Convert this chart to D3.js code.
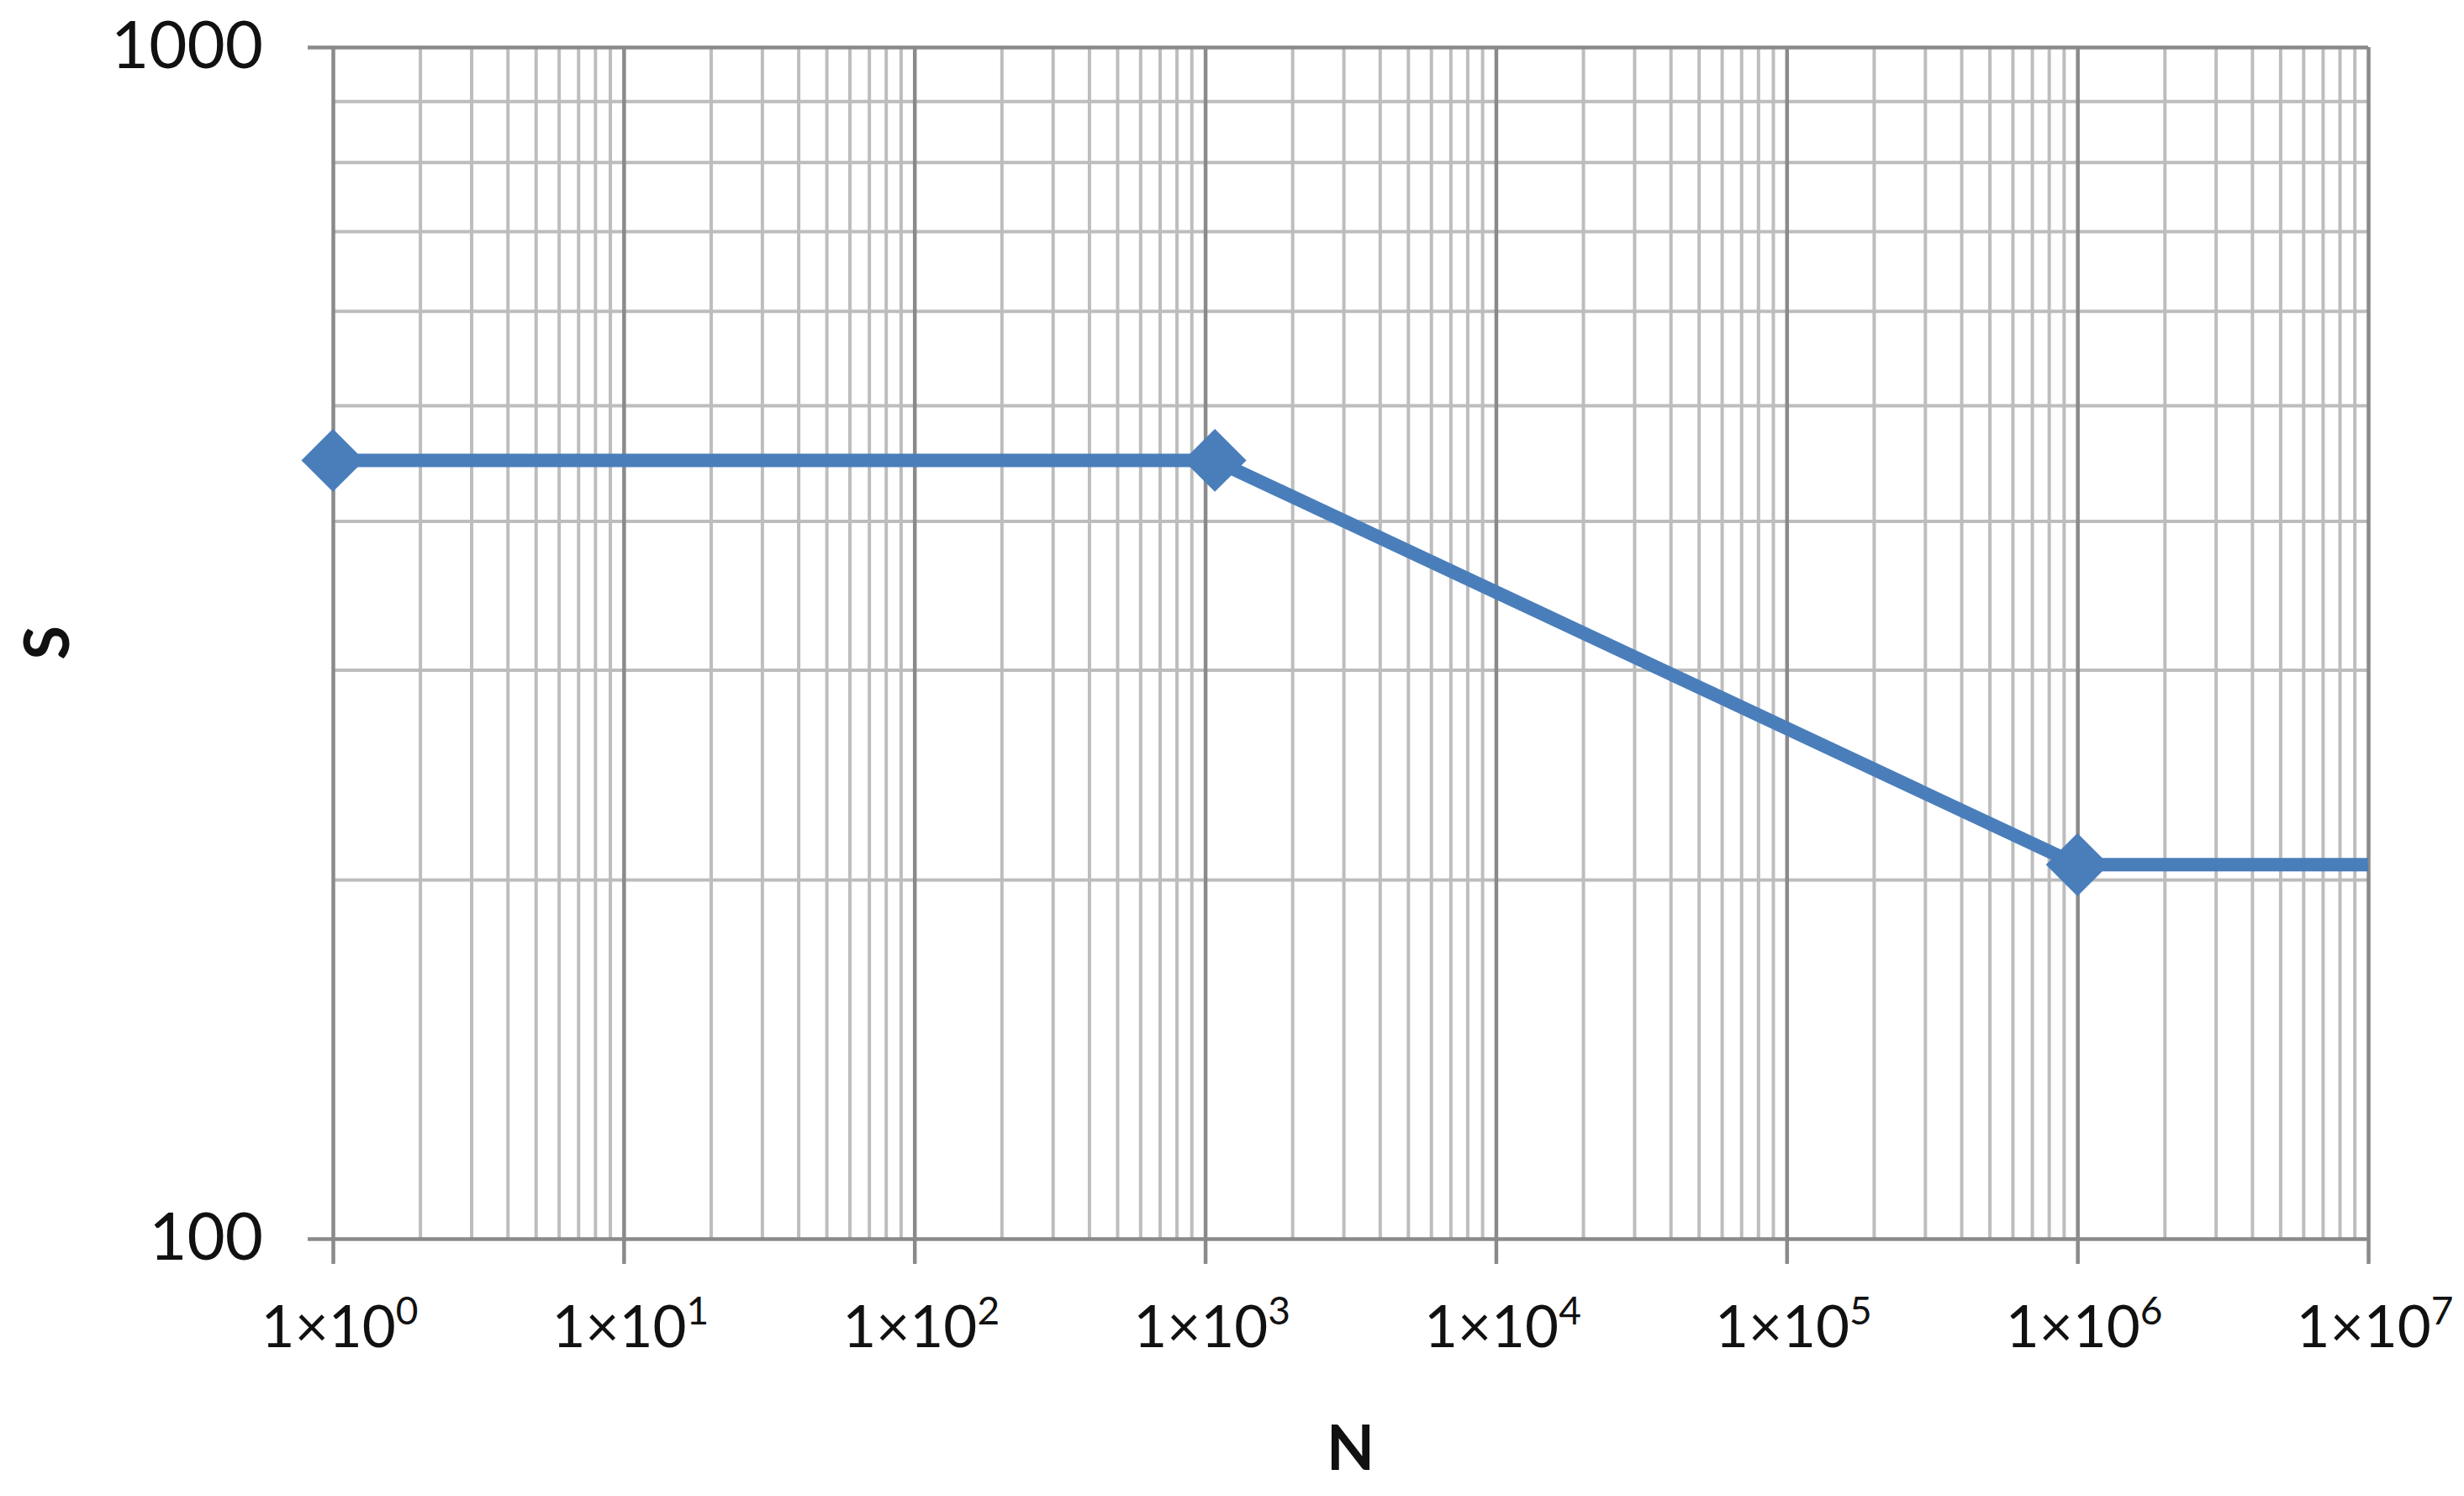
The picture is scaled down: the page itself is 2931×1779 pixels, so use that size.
<!DOCTYPE html>
<html>
<head>
<meta charset="utf-8">
<script src="https://cdn.jsdelivr.net/npm/d3@7"></script>
<style>
  html, body { margin: 0; padding: 0; background: #fff; }
  svg { display: block; }
</style>
</head>
<body>
<div id="chart"></div>
<script>
  // Series
  var seriesN = [1, 1080, 1e6, 1e7];
  var seriesS = [450, 450, 206, 206];
  var hasMarker = [true, true, true, false];
  // Tick labels
  var xTickExponents = [0, 1, 2, 3, 4, 5, 6, 7];
  var yTickValues = [100, 1000];
  var xTitle = 'N';
  var yTitle = 'S';

  var width = 2931;
  var height = 1779;
  var margin = { top: 56, right: 114, bottom: 306, left: 396 };
  var innerW = width - margin.left - margin.right;
  var innerH = height - margin.top - margin.bottom;

  var lineColor = '#4a7ebb';
  var majorGrid = '#8a8a8a';
  var minorGrid = '#bdbdbd';
  var font = 'Lato, "Open Sans", sans-serif';

  var x = d3.scaleLog().domain([1, 1e7]).range([0, innerW]);
  var y = d3.scaleLog().domain([100, 1000]).range([innerH, 0]);

  var svg = d3.select('#chart').append('svg')
    .attr('width', width)
    .attr('height', height);

  var g = svg.append('g')
    .attr('transform', 'translate(' + margin.left + ',' + margin.top + ')');

  var majorX = xTickExponents.map(function(e) { return Math.pow(10, e); });
  var minorX = x.ticks().filter(function(v) { return majorX.indexOf(v) < 0; });
  var minorY = y.ticks().filter(function(v) { return yTickValues.indexOf(v) < 0; });

  /*
   * Grid lines: minor first, then the decades on top
   */
  g.append('g')
    .selectAll('line')
    .data(minorX)
    .enter()
    .append('line')
    .attr('x1', x).attr('x2', x)
    .attr('y1', 0).attr('y2', innerH)
    .attr('stroke', minorGrid)
    .attr('stroke-width', 4);

  g.append('g')
    .selectAll('line')
    .data(minorY)
    .enter()
    .append('line')
    .attr('x1', 0).attr('x2', innerW)
    .attr('y1', y).attr('y2', y)
    .attr('stroke', minorGrid)
    .attr('stroke-width', 4);

  var xAxis = d3.axisBottom(x)
    .tickValues(majorX)
    .tickSizeInner(-innerH - 30)
    .tickSizeOuter(0)
    .tickFormat('');

  var xAxisG = g.append('g')
    .attr('transform', 'translate(0,' + (innerH + 30) + ')')
    .call(xAxis);
  xAxisG.select('.domain').remove();
  xAxisG.selectAll('line').attr('stroke', majorGrid).attr('stroke-width', 4.5);

  var yAxis = d3.axisLeft(y)
    .tickValues(yTickValues)
    .tickSizeInner(-innerW - 30)
    .tickSizeOuter(0)
    .tickFormat('');

  var yAxisG = g.append('g')
    .attr('transform', 'translate(-30,0)')
    .call(yAxis);
  yAxisG.select('.domain').remove();
  yAxisG.selectAll('line').attr('stroke', majorGrid).attr('stroke-width', 4.5);

  /*
   * Tick labels
   */
  var xLabels = g.append('g')
    .selectAll('text')
    .data(xTickExponents)
    .enter()
    .append('text')
    .attr('x', function(e) { return x(Math.pow(10, e)) + 8; })
    .attr('y', innerH + 129)
    .attr('text-anchor', 'middle')
    .attr('font-family', font)
    .attr('font-size', 69)
    .attr('fill', '#111');
  xLabels.append('tspan').text('1\u00d710');
  xLabels.append('tspan')
    .attr('dy', -27)
    .attr('font-size', 46)
    .text(function(e) { return e; });

  g.append('g')
    .selectAll('text')
    .data(yTickValues)
    .enter()
    .append('text')
    .attr('x', -83)
    .attr('y', function(d) { return y(d) + 25; })
    .attr('text-anchor', 'end')
    .attr('font-family', font)
    .attr('font-size', 78)
    .attr('fill', '#111')
    .text(function(d) { return d; });

  /*
   * Axis titles
   */
  svg.append('text')
    .attr('x', margin.left + innerW / 2)
    .attr('y', 1748)
    .attr('text-anchor', 'middle')
    .attr('font-family', font)
    .attr('font-weight', 'bold')
    .attr('font-size', 74)
    .attr('fill', '#111')
    .text(xTitle);

  svg.append('text')
    .attr('transform', 'translate(82,' + (margin.top + innerH / 2) + ') rotate(-90)')
    .attr('text-anchor', 'middle')
    .attr('font-family', font)
    .attr('font-weight', 'bold')
    .attr('font-size', 74)
    .attr('fill', '#111')
    .text(yTitle);

  /*
   * Series line and diamond markers
   */
  var points = seriesN.map(function(n, i) {
    return { n: n, s: seriesS[i], marker: hasMarker[i] };
  });

  var line = d3.line()
    .x(function(d) { return x(d.n); })
    .y(function(d) { return y(d.s); });

  g.append('path')
    .datum(points)
    .attr('d', line)
    .attr('fill', 'none')
    .attr('stroke', lineColor)
    .attr('stroke-width', 16)
    .attr('stroke-linejoin', 'round')
    .attr('stroke-linecap', 'butt');

  var diamond = d3.symbol().type(d3.symbolSquare).size(53 * 53);

  g.append('g')
    .selectAll('path')
    .data(points.filter(function(d) { return d.marker; }))
    .enter()
    .append('path')
    .attr('d', diamond)
    .attr('transform', function(d) {
      return 'translate(' + x(d.n) + ',' + y(d.s) + ') rotate(45)';
    })
    .attr('fill', lineColor);
</script>
</body>
</html>
